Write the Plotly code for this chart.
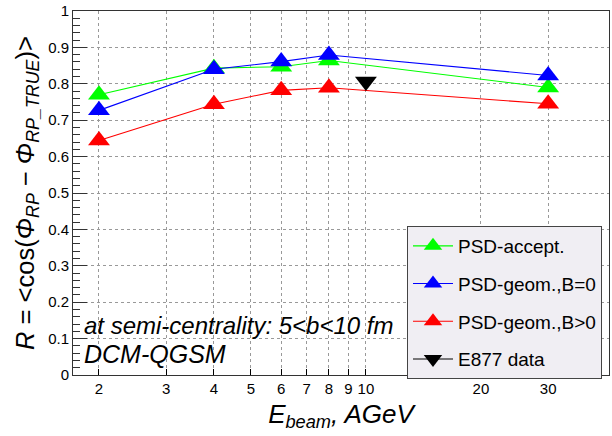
import plotly.graph_objects as go
import math

energy = [2, 4, 6, 8, 30]
psd_accept = [0.770, 0.843, 0.847, 0.864, 0.790]
psd_geom_b0 = [0.727, 0.840, 0.861, 0.879, 0.823]
psd_geom_bpos = [0.644, 0.744, 0.782, 0.789, 0.745]
e877_energy = [10]
e877_value = [0.806]

x_ticks = [2, 3, 4, 5, 6, 7, 8, 9, 10, 20, 30]
y_ticks = [0, 0.1, 0.2, 0.3, 0.4, 0.5, 0.6, 0.7, 0.8, 0.9, 1]

FONT = "Liberation Sans, Arial, Helvetica, sans-serif"

# plot area in screen pixels
PL, PR, PT, PB = 73, 609, 11, 375
W, H = 612, 436

fig = go.Figure()

series = [
    ("PSD-accept.", psd_accept, "#00ff00"),
    ("PSD-geom.,B=0", psd_geom_b0, "#0000ff"),
    ("PSD-geom.,B>0", psd_geom_bpos, "#ff0000"),
]
for i, (name, vals, col) in enumerate(series):
    fig.add_trace(go.Scatter(
        x=energy, y=vals, name=name, mode="lines+markers",
        line=dict(color=col, width=1.1),
        marker=dict(symbol="triangle-up", size=19, color=col, line=dict(width=0)),
        legendgroup=f"g{i}",
    ))

fig.add_trace(go.Scatter(
    x=e877_energy, y=e877_value, name="E877 data", mode="lines+markers",
    line=dict(color="black", width=1.1),
    marker=dict(symbol="triangle-down", size=19, color="black", line=dict(width=0)),
    legendgroup="g3",
))

pw = PR - PL
ph = PB - PT
fig.add_annotation(
    xref="paper", yref="paper", x=9 / pw, y=(PB - 325) / ph, xanchor="left", yanchor="middle",
    text="<i>at semi-centrality: 5&lt;b&lt;10 fm</i>", showarrow=False,
    font=dict(family=FONT, size=24, color="black"),
)
fig.add_annotation(
    xref="paper", yref="paper", x=9 / pw, y=(PB - 354) / ph, xanchor="left", yanchor="middle",
    text="<i>DCM-QGSM</i>", showarrow=False,
    font=dict(family=FONT, size=25, color="black"),
)

fig.update_layout(
    width=W, height=H,
    margin=dict(l=PL, r=W - PR, t=PT, b=H - PB),
    paper_bgcolor="white", plot_bgcolor="white",
    font=dict(family=FONT, color="black"),
    showlegend=True,
    legend=dict(
        x=(407 - PL) / pw, y=(PB - 226) / ph, xanchor="left", yanchor="top",
        bgcolor="#f0eef3", bordercolor="#444444", borderwidth=1,
        font=dict(family=FONT, size=19, color="black"),
        tracegroupgap=10, traceorder="grouped", itemwidth=40,
    ),
    xaxis=dict(
        type="log",
        range=[math.log10(1.71), math.log10(43.3)],
        tickvals=x_ticks, ticktext=[str(v) for v in x_ticks],
        ticks="inside", ticklen=6, tickcolor="black",
        showgrid=True, gridcolor="#999999", griddash="dot", gridwidth=1,
        showline=True, linecolor="#333333", linewidth=1, mirror=True,
        tickfont=dict(size=15),
        title=dict(text="<i>E<sub>beam</sub>, AGeV</i>", font=dict(size=26), standoff=8),
        zeroline=False,
    ),
    yaxis=dict(
        range=[0, 1],
        tickvals=y_ticks, ticktext=["0", "0.1", "0.2", "0.3", "0.4", "0.5", "0.6", "0.7", "0.8", "0.9", "1"],
        ticks="inside", ticklen=14, tickcolor="#333333",
        minor=dict(dtick=0.02, ticks="inside", ticklen=7, tickcolor="#333333", showgrid=False),
        showgrid=True, gridcolor="#999999", griddash="dot", gridwidth=1,
        showline=True, linecolor="#333333", linewidth=1, mirror=True,
        tickfont=dict(size=15),
        title=dict(text="<i>R</i> = &lt;cos(<i>Φ</i><sub><i>RP</i></sub> − <i>Φ</i><sub><i>RP_TRUE</i></sub>)&gt;",
                   font=dict(size=25.5), standoff=6),
        zeroline=False,
    ),
)

fig.write_html("out.html", config={"displayModeBar": False},
               post_script="document.body.style.margin='0';document.body.style.padding='0';")
